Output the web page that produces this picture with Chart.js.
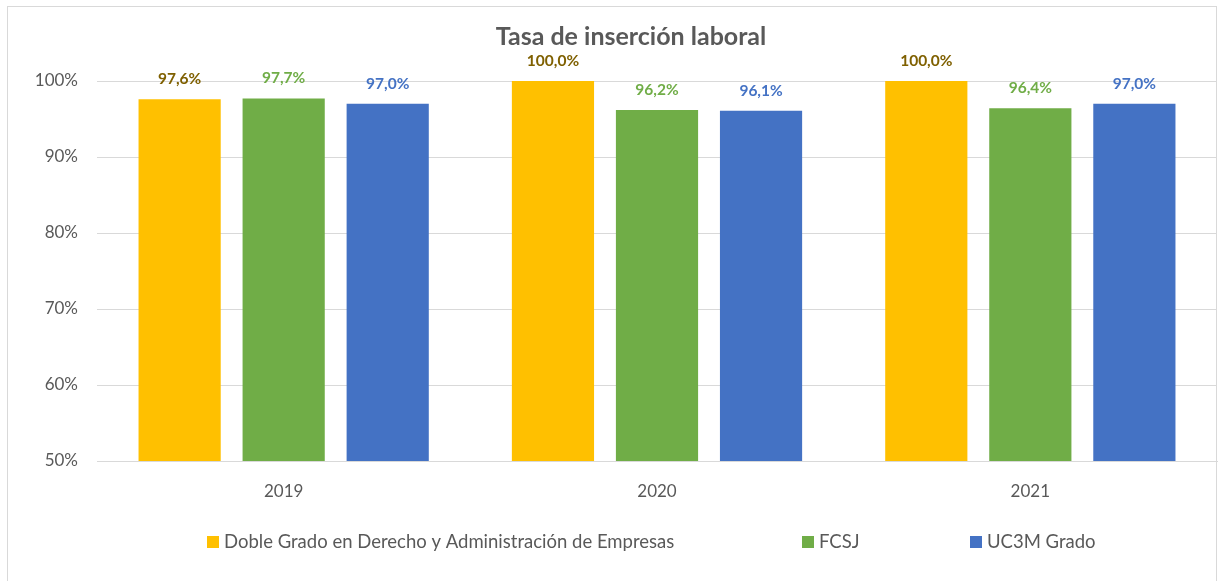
<!DOCTYPE html>
<html lang="es">
<head>
  <meta charset="utf-8">
  <title>Tasa de inserción laboral</title>
  <script src="https://cdn.jsdelivr.net/npm/chart.js"></script>
  <style>
    html, body { margin: 0; padding: 0; background: #fff; }
    .chart-box { width: 1227px; height: 581px; }
  </style>
</head>
<body>
<div class="chart-box">
  <canvas id="insercion-chart"></canvas>
</div>
<script>
  const years = ['2019', '2020', '2021'];
  const seriesNames = ['Doble Grado en Derecho y Administración de Empresas', 'FCSJ', 'UC3M Grado'];
  const dobleGrado = [97.6, 100.0, 100.0];
  const fcsj = [97.7, 96.2, 96.4];
  const uc3m = [97.0, 96.1, 97.0];
  const yTicks = [50, 60, 70, 80, 90, 100];

  const barColors = ['#FFC000', '#70AD47', '#4472C4'];
  const labelColors = ['#7F6000', '#70AD47', '#4472C4'];
  const fontFamily = 'Lato, "Open Sans", sans-serif';

  // marco, título, etiquetas y leyenda
  const decorations = {
    id: 'decorations',
    beforeDraw(chart) {
      const { ctx } = chart;
      ctx.save();
      ctx.strokeStyle = '#D9D9D9';
      ctx.lineWidth = 1;
      ctx.strokeRect(7.5, 6.5, 1209, 600);
      ctx.restore();
    },
    afterDatasetsDraw(chart) {
      const { ctx } = chart;
      ctx.save();
      // título
      ctx.fillStyle = '#595959';
      ctx.font = 'bold 25px ' + fontFamily;
      ctx.textAlign = 'center';
      ctx.textBaseline = 'middle';
      ctx.fillText('Tasa de inserción laboral', 631, 37);

      // valores sobre las barras
      ctx.font = 'bold 15.5px ' + fontFamily;
      chart.data.datasets.forEach((ds, i) => {
        chart.getDatasetMeta(i).data.forEach((bar, j) => {
          ctx.fillStyle = labelColors[i];
          ctx.fillText(ds.data[j].toFixed(1).replace('.', ',') + '%', bar.x, bar.y - 20);
        });
      });

      // leyenda
      const legendX = [207, 802, 970];
      ctx.font = '18.5px ' + fontFamily;
      ctx.textAlign = 'left';
      seriesNames.forEach((name, i) => {
        ctx.fillStyle = barColors[i];
        ctx.fillRect(legendX[i], 536, 12, 12);
        ctx.fillStyle = '#595959';
        ctx.fillText(name, legendX[i] + 17, 542);
      });
      ctx.restore();
    }
  };

  const datasetValues = [dobleGrado, fcsj, uc3m];

  new Chart(document.getElementById('insercion-chart'), {
    type: 'bar',
    data: {
      labels: years,
      datasets: seriesNames.map((name, i) => ({
        label: name,
        data: datasetValues[i],
        backgroundColor: barColors[i],
        borderWidth: 0,
        categoryPercentage: 0.836,
        barPercentage: 0.79
      }))
    },
    options: {
      responsive: true,
      maintainAspectRatio: false,
      animation: false,
      layout: {
        padding: { top: 81, left: 7, right: 10, bottom: 80 }
      },
      plugins: {
        legend: { display: false },
        title: { display: false },
        tooltip: { enabled: false }
      },
      scales: {
        x: {
          grid: { display: false, drawTicks: false },
          border: { display: true, color: '#D9D9D9' },
          ticks: {
            color: '#595959',
            font: { family: fontFamily, size: 17 },
            padding: 20
          },
          afterFit(scale) { scale.height = 40; }
        },
        y: {
          min: 50,
          max: 100,
          afterBuildTicks(scale) {
            scale.ticks = yTicks.map(v => ({ value: v }));
          },
          grid: { color: '#D9D9D9', drawTicks: false },
          border: { display: false },
          ticks: {
            color: '#595959',
            font: { family: fontFamily, size: 17 },
            padding: 19,
            callback: v => v + '%'
          },
          afterFit(scale) { scale.width = 90; }
        }
      }
    },
    plugins: [decorations]
  });
</script>
</html>
